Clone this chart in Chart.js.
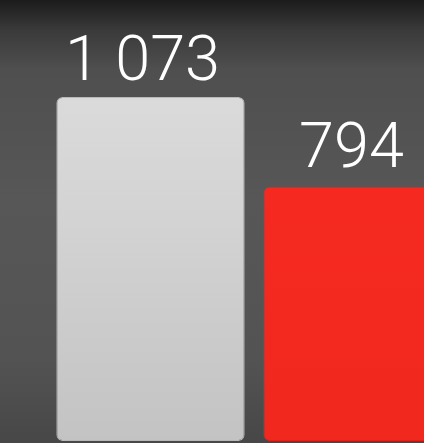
<!DOCTYPE html>
<html>
<head>
<meta charset="utf-8">
<script src="https://cdn.jsdelivr.net/npm/chart.js@4"></script>
<style>
  html, body { margin: 0; padding: 0; overflow: hidden; }
  body {
    width: 424px; height: 443px;
    background: linear-gradient(to bottom, #1b1b1b 0px, #3a3a3a 30px, #4f4f4f 70px, #575757 200px, #535353 360px, #474747 443px);
  }
  #wrap { position: absolute; left: 0; top: 0; width: 470px; height: 443px; }
</style>
</head>
<body>
<div id="wrap"><canvas id="myChart"></canvas></div>
<script>
// Valores do gráfico
const categorias = ['A', 'B'];
const valores = [1073, 794];
const rotulos = ['1 073', '794'];
const cores = ['#d2d2d2', '#f5281f'];

// Rótulos grandes acima das barras
const rotulosPlugin = {
  id: 'rotulos',
  afterDatasetsDraw(chart) {
    const ctx = chart.ctx;
    const meta = chart.getDatasetMeta(0);
    ctx.save();
    ctx.fillStyle = '#ffffff';
    ctx.font = '300 63px Roboto, "Liberation Sans", sans-serif';
    ctx.textAlign = 'center';
    ctx.textBaseline = 'alphabetic';
    meta.data.forEach((bar, i) => {
      ctx.fillText(rotulos[i], bar.x - 8 + i * 2, bar.y - 17 - i * 3);
    });
    ctx.restore();
  }
};

const ctxBarra = document.getElementById('myChart');

new Chart(ctxBarra, {
  type: 'bar',
  data: {
    labels: categorias,
    datasets: [{
      data: valores,
      backgroundColor: (c) => {
        const area = c.chart.chartArea;
        if (!area) return cores[c.dataIndex];
        const g = c.chart.ctx.createLinearGradient(0, area.top, 0, area.bottom);
        if (c.dataIndex === 0) {
          g.addColorStop(0, '#e0e0e0');
          g.addColorStop(0.5, '#d3d3d3');
          g.addColorStop(1, '#c3c3c3');
        } else {
          g.addColorStop(0, '#fa2a20');
          g.addColorStop(1, '#f0281e');
        }
        return g;
      },
      borderColor: ['#b8b8b8', '#d8241b'],
      borderWidth: 1,
      borderRadius: 6,
      borderSkipped: false,
      categoryPercentage: 0.91,
      barPercentage: 1
    }]
  },
  plugins: [rotulosPlugin],
  options: {
    responsive: true,
    maintainAspectRatio: false,
    animation: false,
    layout: { padding: { left: 47, right: 9, top: 0, bottom: 2 } },
    plugins: {
      legend: { display: false },
      tooltip: { enabled: false }
    },
    scales: {
      x: { display: false },
      y: { display: false, beginAtZero: true, min: 0, max: 1376 }
    }
  }
});
</script>
</body>
</html>
